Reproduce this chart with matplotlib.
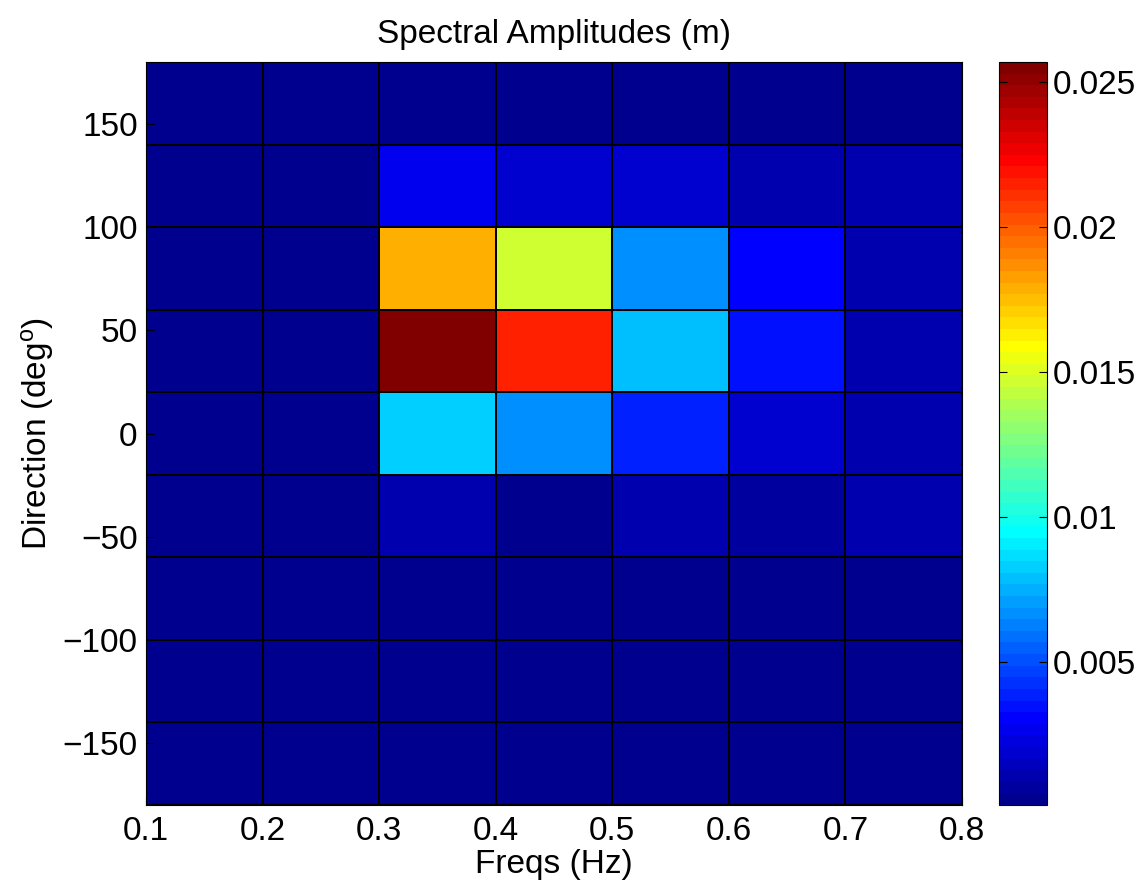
import numpy as np
import matplotlib
matplotlib.use('Agg')
import matplotlib.pyplot as plt
from matplotlib.colors import ListedColormap

plt.rcParams['font.family'] = ['Liberation Sans', 'DejaVu Sans']
plt.rcParams['mathtext.default'] = 'regular'

# bin edges
freq_edges = [0.1, 0.2, 0.3, 0.4, 0.5, 0.6, 0.7, 0.8]
dir_edges = [-180, -140, -100, -60, -20, 20, 60, 100, 140, 180]

# spectral amplitude (m), rows = direction bins from -180 upward, cols = freq bins
amp_m180 = [0.0001, 0.0001, 0.0001, 0.0001, 0.0001, 0.0001, 0.0001]
amp_m140 = [0.0001, 0.0001, 0.0001, 0.0001, 0.0001, 0.0001, 0.0001]
amp_m100 = [0.0001, 0.0001, 0.0001, 0.0001, 0.0001, 0.0001, 0.0001]
amp_m60 = [0.0002, 0.0002, 0.0009, 0.0001, 0.0009, 0.0006, 0.0009]
amp_m20 = [0.0001, 0.0001, 0.0084, 0.0068, 0.0040, 0.0020, 0.0010]
amp_p20 = [0.0001, 0.0001, 0.0257, 0.0214, 0.0080, 0.0033, 0.0011]
amp_p60 = [0.0001, 0.0001, 0.0180, 0.0146, 0.0065, 0.0030, 0.0011]
amp_p100 = [0.0001, 0.0001, 0.0028, 0.0019, 0.0020, 0.0011, 0.0009]
amp_p140 = [0.0001, 0.0001, 0.0001, 0.0001, 0.0001, 0.0001, 0.0001]

amp = np.array([amp_m180, amp_m140, amp_m100, amp_m60, amp_m20,
                amp_p20, amp_p60, amp_p100, amp_p140])


def matlab_jet(m=64):
    # same construction as matlab's jet(m)
    n = int(np.ceil(m / 4))
    u = np.concatenate([np.arange(1, n + 1) / n, np.ones(n - 1), np.arange(n, 0, -1) / n])
    g = int(np.ceil(n / 2)) - (m % 4 == 1) + np.arange(1, len(u) + 1)
    r = g + n
    b = g - n
    cols = np.zeros((m, 3))
    for ch, idx in enumerate([r, g, b]):
        ok = (idx >= 1) & (idx <= m)
        cols[idx[ok] - 1, ch] = u[ok]
    return ListedColormap(cols)


fig = plt.figure(figsize=(11.46, 8.9), dpi=100)
ax = fig.add_axes([146 / 1146, 1 - 805 / 890, (962 - 146) / 1146, (805 - 62) / 890])
cax = fig.add_axes([999 / 1146, 1 - 805 / 890, (1047 - 999) / 1146, (805 - 62) / 890])

mesh = ax.pcolormesh(freq_edges, dir_edges, amp, cmap=matlab_jet(64),
                     vmin=0.00007, vmax=0.0257, edgecolors='black', linewidth=1.3)

fs = 24
ax.set_xlim(0.1, 0.8)
ax.set_ylim(-180, 180)
ax.set_xticks([0.1, 0.2, 0.3, 0.4, 0.5, 0.6, 0.7, 0.8])
ax.set_yticks([-150, -100, -50, 0, 50, 100, 150])
ax.tick_params(direction='in', labelsize=fs, length=6)
ax.tick_params(axis='x', pad=8)
ax.tick_params(axis='y', pad=6)
ax.set_xlabel('Freqs (Hz)', fontsize=fs, labelpad=1)
ax.set_ylabel('Direction (deg$^{o}$)', fontsize=fs, labelpad=5)
ax.set_title('Spectral Amplitudes (m)', fontsize=fs, pad=14)

cb = fig.colorbar(mesh, cax=cax)
cb.set_ticks([0.005, 0.01, 0.015, 0.02, 0.025])
cb.set_ticklabels(['0.005', '0.01', '0.015', '0.02', '0.025'])
cb.ax.tick_params(direction='in', labelsize=fs, length=6, left=True, right=True, pad=4)
cb.outline.set_linewidth(0.8)

for sp in ax.spines.values():
    sp.set_linewidth(0.8)

fig.savefig('out.png', dpi=100)
